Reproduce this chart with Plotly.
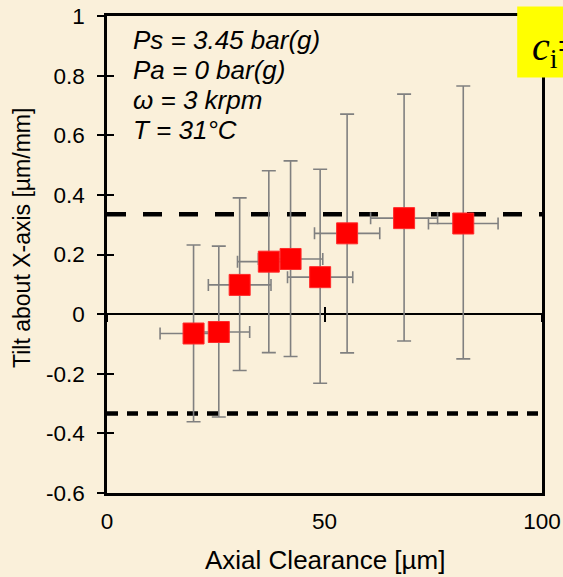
import plotly.graph_objects as go

# ---- data ----
clearance = [19.9, 25.7, 30.5, 37.2, 42.2, 49.0, 55.2, 68.3, 81.9]
tilt = [-0.065, -0.060, 0.098, 0.176, 0.185, 0.124, 0.271, 0.322, 0.304]
tilt_upper = [0.232, 0.228, 0.390, 0.481, 0.514, 0.486, 0.671, 0.738, 0.765]
tilt_lower = [-0.361, -0.345, -0.189, -0.129, -0.142, -0.232, -0.130, -0.090, -0.150]
clearance_err = [7.7, 7.1, 7.2, 7.2, 7.4, 7.5, 7.5, 7.7, 8.0]

upper_limit = 0.335
lower_limit = -0.333

x_range = [0, 100]
y_range = [-0.6, 1.0]
x_ticks = [0, 50, 100]
y_ticks = [-0.6, -0.4, -0.2, 0, 0.2, 0.4, 0.6, 0.8, 1]
y_tick_text = ["-0.6", "-0.4", "-0.2", "0", "0.2", "0.4", "0.6", "0.8", "1"]

conditions = ["Ps = 3.45 bar(g)", "Pa = 0 bar(g)", "ω = 3 krpm", "T = 31°C"]

err_plus = [u - t for u, t in zip(tilt_upper, tilt)]
err_minus = [t - l for t, l in zip(tilt, tilt_lower)]

BG = "#FAF0DA"
FONT = "Liberation Sans, Arial, sans-serif"

fig = go.Figure()

fig.add_trace(go.Scatter(
    x=x_range, y=[upper_limit, upper_limit], mode="lines",
    line=dict(color="black", width=4.5, dash="19px,17px"),
    hoverinfo="skip", showlegend=False))
fig.add_trace(go.Scatter(
    x=x_range, y=[lower_limit, lower_limit], mode="lines",
    line=dict(color="black", width=4.5, dash="11px,9px"),
    hoverinfo="skip", showlegend=False))

fig.add_trace(go.Scatter(
    x=clearance, y=tilt, mode="markers",
    marker=dict(symbol="square", size=21, color="#FF0000",
                line=dict(color="#FF2A2A", width=1)),
    error_y=dict(type="data", symmetric=False, array=err_plus,
                 arrayminus=err_minus, color="#808080", thickness=1.6, width=7),
    error_x=dict(type="data", array=clearance_err, color="#808080",
                 thickness=1.6, width=6),
    showlegend=False))

zero_pos = (0 - y_range[0]) / (y_range[1] - y_range[0])

fig.update_layout(
    width=563, height=577,
    margin=dict(l=107, r=21, t=16, b=84),
    paper_bgcolor=BG, plot_bgcolor=BG,
    font=dict(family=FONT, color="black", size=22),
    showlegend=False,
    xaxis=dict(range=x_range, tickvals=x_ticks, showgrid=False, zeroline=False,
               showline=True, linecolor="black", linewidth=2.5, mirror=True,
               ticks="", ticklabelstandoff=6, tickfont=dict(size=22.5),
               automargin=False),
    yaxis=dict(range=y_range, tickvals=y_ticks, ticktext=y_tick_text,
               showgrid=False, zeroline=True, zerolinecolor="black",
               zerolinewidth=1.5, showline=True, linecolor="black",
               linewidth=2.5, mirror=True, ticks="outside", ticklen=7,
               tickwidth=1.5, tickcolor="black", ticklabelstandoff=8,
               tickfont=dict(size=22.5), automargin=False),
    yaxis2=dict(range=y_range, tickvals=y_ticks, overlaying="y", side="left",
                anchor="x", showgrid=False, zeroline=False, showline=False,
                ticks="inside", ticklen=7, tickwidth=1.5, tickcolor="black",
                showticklabels=False, automargin=False),
    xaxis2=dict(range=x_range, tickvals=x_ticks, overlaying="x", anchor="free",
                position=zero_pos, showgrid=False, zeroline=False,
                showline=False, ticks="outside", ticklen=7, tickwidth=1.5,
                tickcolor="black", showticklabels=False, automargin=False),
    xaxis3=dict(range=x_range, tickvals=x_ticks, overlaying="x", anchor="free",
                position=zero_pos, showgrid=False, zeroline=False,
                showline=False, ticks="inside", ticklen=7, tickwidth=1.5,
                tickcolor="black", showticklabels=False, automargin=False),
)

# invisible traces to bind the helper axes
fig.add_trace(go.Scatter(x=[None], y=[None], xaxis="x2", yaxis="y2",
                         showlegend=False, hoverinfo="skip"))
fig.add_trace(go.Scatter(x=[None], y=[None], xaxis="x3", yaxis="y2",
                         showlegend=False, hoverinfo="skip"))

# axis titles
fig.add_annotation(text="Axial Clearance [µm]", xref="paper", yref="paper",
                   x=0.5, y=-0.141, xanchor="center", yanchor="middle",
                   showarrow=False, font=dict(size=26, family=FONT))
fig.add_annotation(text="Tilt about X-axis [µm/mm]", xref="paper", yref="paper",
                   x=-0.195, y=0.535, xanchor="center", yanchor="middle",
                   textangle=-90, showarrow=False, font=dict(size=23, family=FONT))

# condition text
cond_y = [0.9487, 0.8859, 0.8230, 0.7602]
for line, yy in zip(conditions, cond_y):
    fig.add_annotation(text="<i>" + line + "</i>", xref="paper", yref="paper",
                       x=0.055, y=yy, xanchor="left",
                       yanchor="middle", showarrow=False,
                       font=dict(size=26, family=FONT))

# yellow label box, cut off at the right edge
fig.add_shape(type="rect", xref="paper", yref="paper",
              x0=0.943, x1=1.2, y0=0.871, y1=1.02,
              fillcolor="#FFFF00", line=dict(width=0), layer="above")
fig.add_annotation(text="<i>c</i><sub>i</sub>=", xref="paper", yref="paper",
                   x=0.972, y=0.93, xanchor="left", yanchor="middle",
                   showarrow=False,
                   font=dict(size=40, family="Liberation Serif, serif"))

fig.write_html(
    "out.html",
    config={"displayModeBar": False},
    post_script=("document.body.style.margin='0';"
                 "document.body.style.background='" + BG + "';"),
)
